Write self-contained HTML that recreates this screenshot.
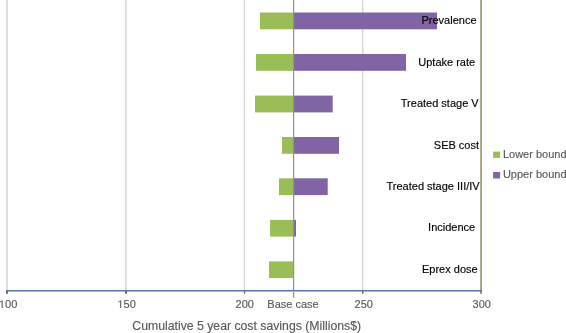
<!DOCTYPE html>
<html>
<head>
<meta charset="utf-8">
<style>
html,body{margin:0;padding:0;background:#fff;}
body{width:566px;height:333px;overflow:hidden;position:relative;}
svg{position:absolute;left:0;top:0;display:block;will-change:transform;}
text{font-family:"Liberation Sans",sans-serif;stroke-width:0.15px;paint-order:stroke;}
.cl{font-size:11px;fill:#000;stroke:#000;}
.xl{font-size:11px;fill:#595959;stroke:#595959;text-anchor:middle;}
.lg{font-size:11px;fill:#595959;stroke:#595959;}
</style>
</head>
<body>
<svg width="566" height="333" viewBox="0 0 566 333">
<!-- gridlines -->
<g fill="#d6d6d6">
<rect x="6.2" y="0" width="1.6" height="290"/>
<rect x="125.1" y="0" width="1.6" height="290"/>
<rect x="243.8" y="0" width="1.3" height="290"/>
<rect x="362.0" y="0" width="1.4" height="290"/>
</g>

<!-- bars -->
<g fill="#9bbd57">
<rect x="260" y="12.5" width="33.5" height="16.8"/>
<rect x="256" y="54" width="37.5" height="16.8"/>
<rect x="255" y="95.6" width="38.5" height="16.8"/>
<rect x="282" y="137" width="11.5" height="16.8"/>
<rect x="279" y="178.3" width="14.5" height="16.8"/>
<rect x="270.1" y="219.9" width="23.4" height="16.7"/>
<rect x="269" y="261.4" width="24.5" height="16.7"/>
</g>
<g fill="#8064a4">
<rect x="293.5" y="12.5" width="143.5" height="16.8"/>
<rect x="293.5" y="54" width="112.5" height="16.8"/>
<rect x="293.5" y="95.6" width="39.2" height="16.8"/>
<rect x="293.5" y="137" width="45.5" height="16.8"/>
<rect x="293.5" y="178.3" width="34.2" height="16.8"/>
<rect x="293.5" y="219.9" width="2.5" height="16.7"/>
</g>

<!-- base case line -->
<rect x="293" y="0" width="1.2" height="297.8" fill="#909090"/>

<!-- right olive axis -->
<rect x="480" y="0" width="1" height="290" fill="#b3b18d"/>
<rect x="481" y="0" width="1" height="290" fill="#9f9d76"/>

<!-- x axis -->
<rect x="6" y="290" width="476" height="1" fill="#5676a6"/>
<rect x="6" y="291" width="476" height="1" fill="#a3bbde"/>
<g fill="#667089">
<rect x="6" y="291" width="2" height="2.8"/>
<rect x="125" y="291" width="2" height="2.8"/>
<rect x="243.8" y="291" width="1.4" height="2.8"/>
<rect x="362" y="291" width="1.5" height="2.8"/>
<rect x="480.2" y="291" width="1.6" height="2.8"/>
</g>

<!-- category labels -->
<text class="cl" x="421.5" y="24.3">Prevalence</text>
<text class="cl" x="418.3" y="66">Uptake rate</text>
<text class="cl" x="400.8" y="107.1">Treated stage V</text>
<text class="cl" x="433.8" y="149">SEB cost</text>
<text class="cl" x="386.5" y="190.3">Treated stage III/IV</text>
<text class="cl" x="428.1" y="230.9">Incidence</text>
<text class="cl" x="422.0" y="273">Eprex dose</text>

<!-- x tick labels -->
<path d="M1.68,308.00 L1.68,301.36 L-0.03,302.58 L-0.03,301.66 L1.76,300.43 L2.65,300.43 L2.65,308.00 Z" fill="#595959" stroke="#595959" stroke-width="0.15"/>
<text class="xl" x="5.03" y="307.8" style="text-anchor:start">00</text>
<path d="M120.18,308.00 L120.18,301.36 L118.47,302.58 L118.47,301.66 L120.26,300.43 L121.15,300.43 L121.15,308.00 Z" fill="#595959" stroke="#595959" stroke-width="0.15"/>
<text class="xl" x="123.53" y="307.8" style="text-anchor:start">50</text>
<text class="xl" x="244.7" y="307.8">200</text>
<text class="xl" x="293" y="307.8">Base case</text>
<text class="xl" x="363.7" y="307.8">250</text>
<text class="xl" x="481.7" y="307.8">300</text>

<!-- axis title -->
<text x="132.3" y="329.8" style="font-size:12.25px;fill:#595959;stroke:#595959">Cumulative 5 year cost savings (Millions$)</text>

<!-- legend -->
<rect x="493.1" y="151.6" width="7" height="6.3" fill="#9bbd57"/>
<text class="lg" x="502.9" y="157.8">Lower bound</text>
<rect x="493.1" y="172" width="7" height="6.5" fill="#8064a4"/>
<text class="lg" x="502.9" y="177.8">Upper bound</text>
</svg>
</body>
</html>
